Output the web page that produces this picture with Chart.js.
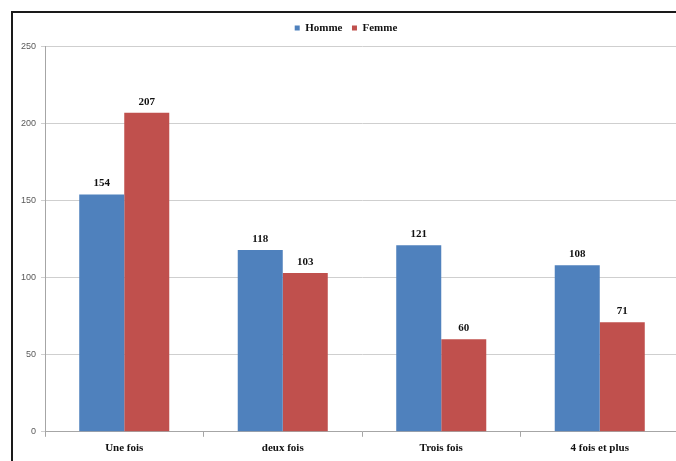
<!DOCTYPE html>
<html lang="fr">
<head>
    <meta charset="UTF-8">
    <title>Homme / Femme</title>
    <script src="https://cdn.jsdelivr.net/npm/chart.js"></script>
    <style>
        body { margin: 0; background: #fff; overflow: hidden; }
        #frame {
            position: absolute;
            left: 11px;
            top: 11px;
            border-left: 2px solid #1a1a1a;
            border-top: 2px solid #1a1a1a;
        }
        canvas { display: block; }
    </style>
</head>
<body>
    <div id="frame">
        <canvas id="chart" width="666" height="448"></canvas>
    </div>

    <script>
        const categories = ["Une fois", "deux fois", "Trois fois", "4 fois et plus"];
        const homme = [154, 118, 121, 108];
        const femme = [207, 103, 60, 71];
        const yTicks = [0, 50, 100, 150, 200, 250];

        const serifBold = { family: "'Liberation Serif', 'Times New Roman', serif", size: 11, weight: "bold" };

        // a bit more room between the legend and the plot
        const legendGap = {
            id: "legendGap",
            beforeInit(chart) {
                const fit = chart.legend.fit;
                chart.legend.fit = function () {
                    fit.bind(chart.legend)();
                    this.height += 3;
                };
            }
        };

        // value written above each bar
        const barValues = {
            id: "barValues",
            afterDatasetsDraw(chart) {
                const ctx = chart.ctx;
                ctx.save();
                ctx.font = "bold 11px 'Liberation Serif', 'Times New Roman', serif";
                ctx.fillStyle = "#111";
                ctx.textAlign = "center";
                ctx.textBaseline = "middle";
                chart.data.datasets.forEach((ds, i) => {
                    chart.getDatasetMeta(i).data.forEach((bar, j) => {
                        ctx.fillText(ds.data[j], bar.x, bar.y - 11);
                    });
                });
                ctx.restore();
            }
        };

        new Chart(document.getElementById("chart"), {
            type: "bar",
            data: {
                labels: categories,
                datasets: [
                    { label: "Homme", data: homme, backgroundColor: "#4f81bd", borderWidth: 0 },
                    { label: "Femme", data: femme, backgroundColor: "#c0504d", borderWidth: 0 }
                ]
            },
            options: {
                responsive: false,
                animation: false,
                devicePixelRatio: 1,
                layout: { padding: { top: 0, right: 0, bottom: 1, left: 0 } },
                datasets: {
                    bar: { categoryPercentage: 0.568, barPercentage: 1 }
                },
                plugins: {
                    tooltip: { enabled: false },
                    legend: {
                        position: "top",
                        labels: {
                            boxWidth: 5,
                            boxHeight: 5,
                            padding: 9.5,
                            color: "#111",
                            font: serifBold
                        }
                    }
                },
                scales: {
                    x: {
                        grid: {
                            drawOnChartArea: false,
                            drawTicks: true,
                            tickLength: 5,
                            color: "#a6a6a6"
                        },
                        border: { color: "#a6a6a6" },
                        ticks: { padding: 5, color: "#111", font: serifBold }
                    },
                    y: {
                        min: 0,
                        max: 250,
                        afterFit(scale) { scale.width = 32; },
                        afterBuildTicks(scale) { scale.ticks = yTicks.map(v => ({ value: v })); },
                        grid: { color: "#cfcfcf", tickLength: 4 },
                        border: { color: "#a6a6a6" },
                        ticks: {
                            padding: 5,
                            color: "#595959",
                            font: { family: "'Liberation Sans', Arial, sans-serif", size: 9 }
                        }
                    }
                }
            },
            plugins: [legendGap, barValues]
        });
    </script>
</body>
</html>
